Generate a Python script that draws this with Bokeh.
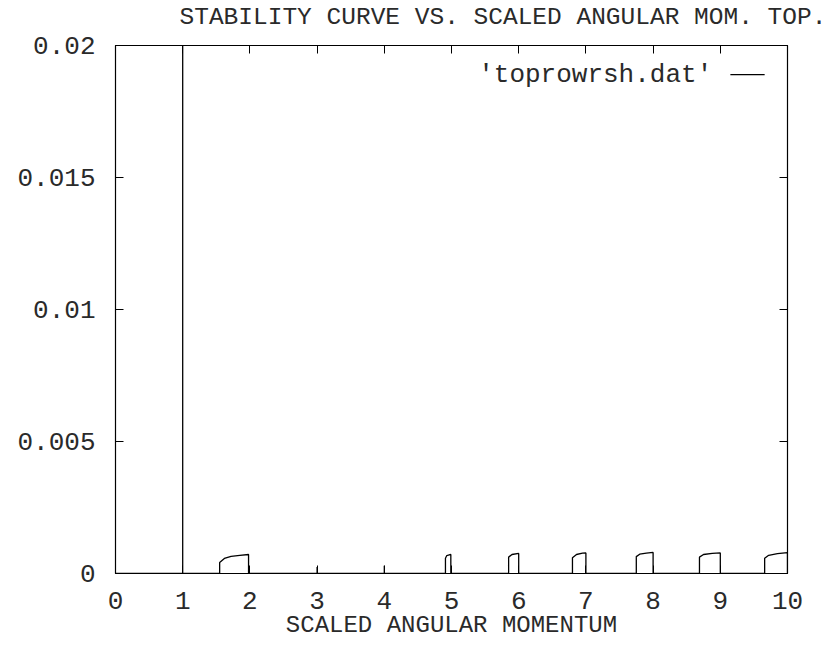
from bokeh.plotting import figure
from bokeh.models import FixedTicker, LinearAxis, Range1d, Label
from bokeh.embed import file_html
from bokeh.resources import INLINE

# ---- data ----
x_vals = [0.0, 1.0, 1.0, 1.0,
          1.55, 1.55, 1.62, 1.72, 1.85, 1.98, 1.98,
          3.0, 3.0, 3.0,
          4.0, 4.0, 4.0,
          4.91, 4.91, 4.93, 4.99, 4.99,
          5.85, 5.85, 5.9, 6.0, 6.0,
          6.8, 6.8, 6.86, 6.95, 7.0, 7.0,
          7.75, 7.75, 7.8, 7.9, 8.0, 8.0,
          8.69, 8.69, 8.75, 8.88, 9.0, 9.0,
          9.66, 9.66, 9.72, 9.85, 10.0, 10.0]
y_vals = [0.0, 0.0, 0.03, 0.0,
          0.0, 0.00042, 0.00057, 0.00065, 0.00069, 0.00072, 0.0,
          0.0, 0.00025, 0.0,
          0.0, 0.00029, 0.0,
          0.0, 0.00058, 0.00068, 0.00072, 0.0,
          0.0, 0.00062, 0.00072, 0.00076, 0.0,
          0.0, 0.0006, 0.00072, 0.00077, 0.00078, 0.0,
          0.0, 0.00064, 0.00073, 0.00077, 0.0008, 0.0,
          0.0, 0.00062, 0.00072, 0.00076, 0.00078, 0.0,
          0.0, 0.00058, 0.00069, 0.00075, 0.00079, 0.0]

x_ticks = [0, 1, 2, 3, 4, 5, 6, 7, 8, 9, 10]
y_ticks = [0, 0.005, 0.01, 0.015, 0.02]
y_tick_labels = ["0", "0.005", "0.01", "0.015", "0.02"]
series_name = "'toprowrsh.dat'"
title_text = "STABILITY CURVE VS. SCALED ANGULAR MOM. TOP."
x_label = "SCALED ANGULAR MOMENTUM"

FONT = "Liberation Mono"
INK = "#2a2a2a"

p = figure(width=832, height=647, output_backend="svg", toolbar_location=None,
           x_range=Range1d(0, 10), y_range=Range1d(0, 0.02),
           min_border_left=115, min_border_right=45,
           min_border_top=45, min_border_bottom=74)

p.xgrid.visible = False
p.ygrid.visible = False
p.outline_line_color = "black"
p.outline_line_width = 1.2
p.background_fill_color = "white"
p.border_fill_color = "white"

def style_axis(ax, show_labels=True):
    ax.major_tick_in = 8
    ax.major_tick_out = 0
    ax.minor_tick_in = 0
    ax.minor_tick_out = 0
    ax.axis_line_color = "black"
    ax.major_tick_line_color = "black"
    ax.major_label_text_font = FONT
    ax.major_label_text_font_size = "26px"
    ax.major_label_text_color = INK
    if not show_labels:
        ax.major_label_text_font_size = "0px"

xa = p.xaxis[0]
xa.ticker = FixedTicker(ticks=x_ticks)
style_axis(xa)
xa.major_label_standoff = 18
xa.axis_label = x_label
xa.axis_label_text_font = FONT
xa.axis_label_text_font_size = "24px"
xa.axis_label_text_font_style = "normal"
xa.axis_label_text_color = INK
xa.axis_label_standoff = 0

ya = p.yaxis[0]
ya.ticker = FixedTicker(ticks=y_ticks)
ya.major_label_overrides = {t: s for t, s in zip(y_ticks, y_tick_labels)}
style_axis(ya)
ya.major_label_standoff = 20

# top mirror axis carries the chart title (padded so it sits right of centre)
top = LinearAxis(ticker=FixedTicker(ticks=x_ticks))
style_axis(top, False)
top.major_label_standoff = 0
top.axis_label = "\u00a0" * 7 + title_text
top.axis_label_text_font = FONT
top.axis_label_text_font_size = "24.5px"
top.axis_label_text_font_style = "normal"
top.axis_label_text_color = INK
top.axis_label_standoff = 15
p.add_layout(top, "above")

right = LinearAxis(ticker=FixedTicker(ticks=y_ticks))
style_axis(right, False)
right.major_label_standoff = 0
p.add_layout(right, "right")

p.line(x_vals, y_vals, line_color="black", line_width=1.3)

# legend (gnuplot style: text then line sample)
p.add_layout(Label(x=8.88, y=0.0189, text=series_name, text_font=FONT,
                   text_font_size="26px", text_color=INK,
                   text_align="right", text_baseline="middle"))
p.segment(x0=[9.15], y0=[0.0189], x1=[9.66], y1=[0.0189],
          line_color="black", line_width=1.3)

open("out.html", "w").write(file_html(p, INLINE))
